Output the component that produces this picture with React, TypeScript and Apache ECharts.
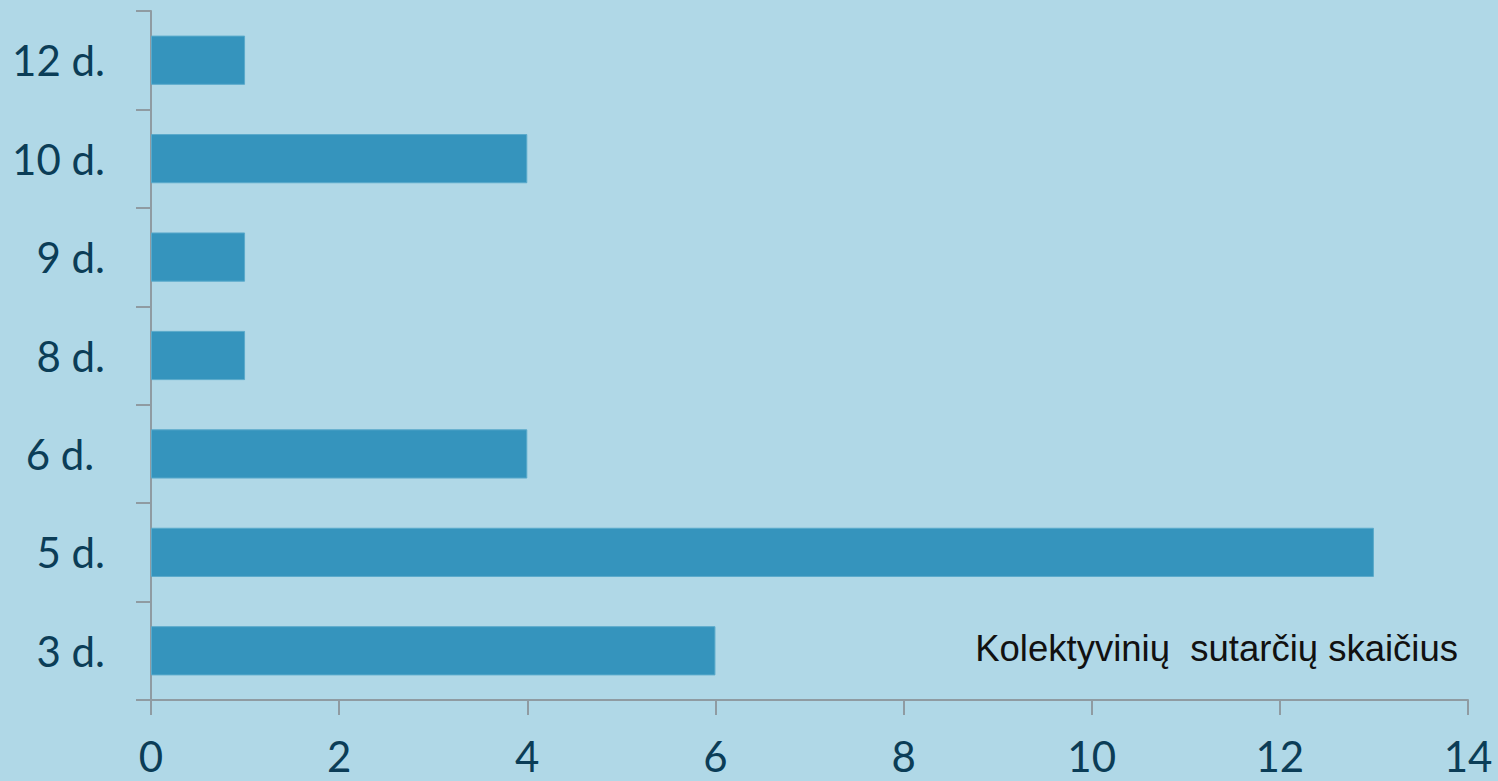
import React, { useEffect, useRef } from "react";
import * as echarts from "echarts";

const categories = ["3 d.", "5 d.", "6 d. ", "8 d.", "9 d.", "10 d.", "12 d."];
const contractCounts = [6, 13, 4, 1, 1, 4, 1];
const seriesName = "Kolektyvinių  sutarčių skaičius";

export default function App() {
  const ref = useRef<HTMLDivElement>(null);
  useEffect(() => {
    const chart = echarts.init(ref.current!, null, { renderer: "svg" });
    const axisColor = "#8f9ba2";
    const labelColor = "#0b3d57";
    chart.setOption({
      animation: false,
      backgroundColor: "#b0d8e7",
      grid: { left: 151, right: 30, top: 11, bottom: 81, containLabel: false },
      xAxis: {
        type: "value",
        min: 0,
        max: 14,
        interval: 2,
        axisLine: { show: true, lineStyle: { color: axisColor, width: 2 } },
        axisTick: { show: true, length: 15, lineStyle: { color: axisColor, width: 2 } },
        splitLine: { show: false },
        axisLabel: { color: labelColor, fontSize: 42, lineHeight: 40, fontFamily: "Lato", margin: 36 },
      },
      yAxis: {
        type: "category",
        data: categories,
        axisLine: { show: true, lineStyle: { color: axisColor, width: 2 } },
        axisTick: { show: true, length: 15, lineStyle: { color: axisColor, width: 2 } },
        axisLabel: { color: labelColor, fontSize: 42, fontFamily: "Lato", margin: 46 },
      },
      series: [
        {
          name: seriesName,
          type: "bar",
          data: contractCounts,
          barWidth: "50%",
          itemStyle: { color: "#3594bd", borderColor: "#5aaacb", borderWidth: 1 },
        },
      ],
      graphic: [
        {
          type: "text",
          right: 40,
          top: 630,
          style: {
            text: seriesName,
            fill: "#111",
            font: "36.5px 'Liberation Sans', Arial, sans-serif",
          },
        },
      ],
    });
    return () => chart.dispose();
  }, []);
  return (
    <div
      ref={ref}
      style={{ position: "absolute", left: 0, top: 0, width: 1498, height: 781 }}
    />
  );
}
